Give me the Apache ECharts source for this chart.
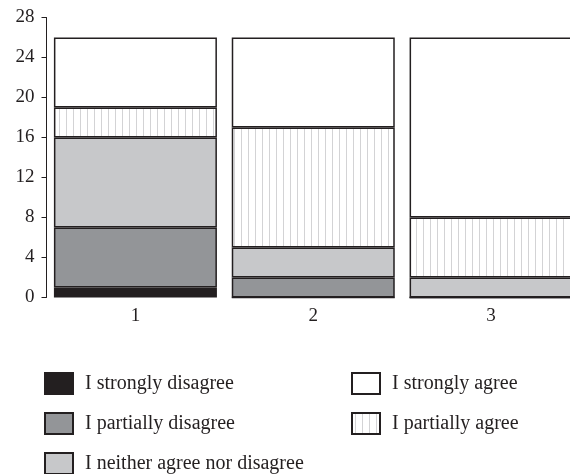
<!DOCTYPE html>
<html>
<head>
<meta charset="utf-8">
<script src="https://cdn.jsdelivr.net/npm/echarts@6/dist/echarts.min.js"></script>
<style>
html,body{margin:0;padding:0;background:#fff;}
#c{width:570px;height:474px;}
</style>
</head>
<body>
<div id="c"></div>
<script>
const categories = ['1', '2', '3'];
const yTicks = [0, 4, 8, 12, 16, 20, 24, 28];
const seriesNames = ['I strongly disagree', 'I partially disagree', 'I neither agree nor disagree', 'I partially agree', 'I strongly agree'];
const stronglyDisagree = [1, 0, 0];
const partiallyDisagree = [6, 2, 0];
const neither = [9, 3, 2];
const partiallyAgree = [3, 12, 6];
const stronglyAgree = [7, 9, 18];
const values = [stronglyDisagree, partiallyDisagree, neither, partiallyAgree, stronglyAgree];

// vertical stripe pattern
const pc = document.createElement('canvas');
pc.width = 7; pc.height = 10;
const ctx = pc.getContext('2d');
ctx.fillStyle = '#ffffff';
ctx.fillRect(0, 0, 7, 10);
ctx.fillStyle = '#d3d3d5';
ctx.fillRect(3, 0, 1, 10);
const stripe = { image: pc, repeat: 'repeat' };

const fills = ['#231f20', '#939598', '#c7c8ca', stripe, '#ffffff'];
const font = 'Liberation Serif';
const ink = '#231f20';

const chart = echarts.init(document.getElementById('c'), null, { renderer: 'canvas' });
chart.setOption({
  animation: false,
  backgroundColor: '#ffffff',
  grid: { left: 46.5, width: 533.5, top: 17.5, height: 280, containLabel: false, outerBoundsMode: 'none' },
  xAxis: {
    type: 'category',
    data: categories,
    axisLine: { show: false },
    axisTick: { show: false },
    axisLabel: { fontFamily: font, fontSize: 19, color: ink, margin: 9 }
  },
  yAxis: {
    type: 'value',
    min: yTicks[0],
    max: yTicks[yTicks.length - 1],
    interval: 4,
    axisLine: { show: true, lineStyle: { color: ink, width: 1 } },
    axisTick: { show: true, length: 5, lineStyle: { color: ink, width: 1 } },
    axisLabel: { fontFamily: font, fontSize: 19, color: ink, margin: 12 },
    splitLine: { show: false }
  },
  legend: [
    {
      data: seriesNames.slice(0, 3),
      orient: 'vertical',
      left: 44, top: 372, padding: 0, height: 110,
      itemWidth: 28, itemHeight: 21, itemGap: 17,
      icon: 'rect',
      textStyle: { fontFamily: font, fontSize: 20, lineHeight: 21, color: ink, padding: [0, 0, 0, 7] }
    },
    {
      data: seriesNames.slice(3).reverse(),
      orient: 'vertical',
      left: 351, top: 372, padding: 0, height: 110,
      itemWidth: 28, itemHeight: 21, itemGap: 17,
      icon: 'rect',
      textStyle: { fontFamily: font, fontSize: 20, lineHeight: 21, color: ink, padding: [0, 0, 0, 7] }
    }
  ],
  series: seriesNames.map((name, i) => ({
    name: name,
    type: 'bar',
    stack: 'total',
    barWidth: 163,
    data: values[i],
    itemStyle: { color: fills[i], borderColor: ink, borderWidth: 1.5 }
  }))
});
</script>
</body>
</html>
